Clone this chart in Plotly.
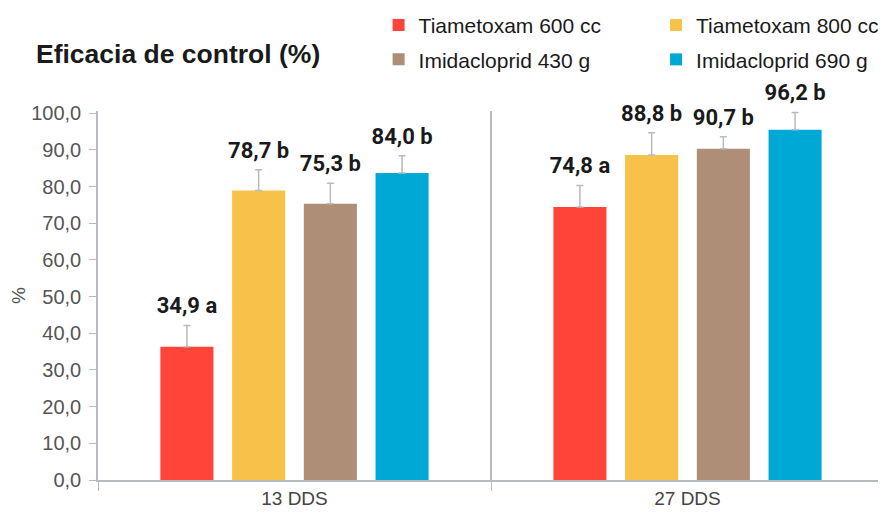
import plotly.graph_objects as go

categories = ["13 DDS", "27 DDS"]
series_names = ["Tiametoxam 600 cc", "Tiametoxam 800 cc", "Imidacloprid 430 g", "Imidacloprid 690 g"]
colors = ["#FF4539", "#F8C14A", "#AE8E77", "#00A8D6"]

tiam600 = [36.3, 74.4]
tiam800 = [78.9, 88.6]
imid430 = [75.3, 90.3]
imid690 = [83.7, 95.5]
values = [tiam600, tiam800, imid430, imid690]

err_tiam600 = [5.8, 5.9]
err_tiam800 = [5.7, 6.1]
err_imid430 = [5.6, 3.3]
err_imid690 = [4.7, 4.7]
errors = [err_tiam600, err_tiam800, err_imid430, err_imid690]

lab_tiam600 = ["34,9 a", "74,8 a"]
lab_tiam800 = ["78,7 b", "88,8 b"]
lab_imid430 = ["75,3 b", "90,7 b"]
lab_imid690 = ["84,0 b", "96,2 b"]
labels = [lab_tiam600, lab_tiam800, lab_imid430, lab_imid690]

legend_of = ["legend", "legend2", "legend", "legend2"]

BASE = "Liberation Sans, Arial, sans-serif"
NARROW = "Liberation Sans Narrow, Roboto, sans-serif"

W, H = 878, 508

fig = go.Figure()
for i, name in enumerate(series_names):
    fig.add_trace(go.Bar(
        x=categories, y=values[i], name=name,
        marker=dict(color=colors[i], line=dict(width=0)),
        offsetgroup=str(i), legendgroup=str(i), legend=legend_of[i],
        error_y=dict(type="data", symmetric=False, array=errors[i],
                     arrayminus=[0] * len(errors[i]),
                     color="#B5BBBE", thickness=1.5, width=3.5),
    ))
for i, name in enumerate(series_names):
    fig.add_trace(go.Scatter(
        x=categories, y=[v + e for v, e in zip(values[i], errors[i])],
        text=labels[i], mode="markers+text", textposition="top center",
        marker=dict(size=9, color="rgba(0,0,0,0)"),
        textfont=dict(family=NARROW, size=22, color="#1a1a1a", weight="bold"),
        offsetgroup=str(i), showlegend=False, hoverinfo="skip", cliponaxis=False,
    ))

fig.update_layout(
    width=W, height=H,
    margin=dict(l=90, r=2, t=103, b=36, autoexpand=False),
    paper_bgcolor="white", plot_bgcolor="white",
    barmode="group", bargap=0.27, bargroupgap=0.26,
    scattermode="group", scattergap=0.27,
    separators=",.",
    font=dict(family=BASE, color="#333333"),
    title=dict(text="<b>Eficacia de control (%)</b>", x=28 / W, xanchor="left",
               y=1 - 46 / H, yanchor="middle",
               font=dict(family=BASE, size=26.5, color="#1a1a1a")),
    legend=dict(x=0.357, xanchor="left", y=1.2875, yanchor="top",
                orientation="v", tracegroupgap=4, bgcolor="rgba(0,0,0,0)",
                font=dict(family=BASE, size=21, color="#1a1a1a")),
    legend2=dict(x=0.710, xanchor="left", y=1.2875, yanchor="top",
                 orientation="v", tracegroupgap=4, bgcolor="rgba(0,0,0,0)",
                 font=dict(family=BASE, size=21, color="#1a1a1a")),
    xaxis=dict(
        type="category", tickson="boundaries", ticks="outside", ticklen=9,
        tickcolor="#B5BBBE", showline=True, linecolor="#B5BBBE", linewidth=1.5,
        showgrid=True, gridcolor="#B5BBBE", gridwidth=1.5, automargin=False,
        tickfont=dict(family=BASE, size=19, color="#444444"),
    ),
    yaxis=dict(
        range=[0, 100.6], tickvals=[0, 10, 20, 30, 40, 50, 60, 70, 80, 90, 100],
        tickformat=".1f", ticks="outside", ticklen=7, automargin=False,
        ticklabelstandoff=4,
        tickcolor="#B5BBBE", showline=True, linecolor="#B5BBBE", linewidth=1.5,
        showgrid=False, zeroline=False,
        tickfont=dict(family=BASE, size=20, color="#555555"),
        title=dict(text="%", font=dict(family=BASE, size=19, color="#555555"), standoff=5),
    ),
)

fig.write_html("out.html")
